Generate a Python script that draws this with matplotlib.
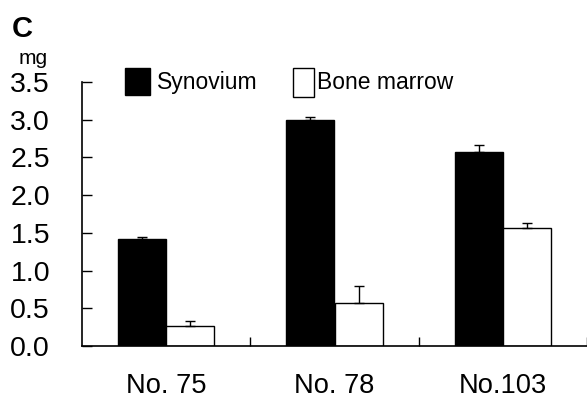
import matplotlib
matplotlib.use("Agg")
import matplotlib.pyplot as plt
import numpy as np
from matplotlib.patches import Rectangle

plt.rcParams['font.family'] = ['Liberation Sans', 'DejaVu Sans']

# data (mg)
cases = ["No. 75", "No. 78", "No.103"]
synovium = [1.42, 2.99, 2.57]
synovium_err = [0.03, 0.04, 0.09]
bone_marrow = [0.27, 0.57, 1.565]
bone_marrow_err = [0.06, 0.22, 0.063]

W, H = 587, 401
fig = plt.figure(figsize=(W / 100, H / 100), dpi=100)
ax = fig.add_axes([82 / W, 1 - 346 / H, 1 - 82 / W, (346 - 82) / H])

x = np.arange(len(cases))
bw = 0.286
ax.bar(x - bw / 2, synovium, bw, color="black", edgecolor="black", linewidth=1)
ax.bar(x + bw / 2, bone_marrow, bw, color="white", edgecolor="black", linewidth=1)
# upward-only error bars
ax.errorbar(x - bw / 2, synovium, yerr=[np.zeros(3), synovium_err], fmt="none",
            ecolor="black", elinewidth=1, capsize=3.3, capthick=1)
ax.errorbar(x + bw / 2, bone_marrow, yerr=[np.zeros(3), bone_marrow_err], fmt="none",
            ecolor="black", elinewidth=1, capsize=3.3, capthick=1)

ax.set_xlim(-0.5, 2.5)
ax.set_ylim(0, 3.5)
ax.set_yticks(np.arange(0, 3.51, 0.5))
ax.set_yticklabels([f"{v:.1f}" for v in np.arange(0, 3.51, 0.5)])
ax.set_xticks(x)
ax.set_xticklabels(cases)
ax.set_xticks([0.5, 1.5, 2.5], minor=True)

ax.tick_params(axis="y", direction="in", length=7, width=1, pad=23, labelsize=20.5)
ax.tick_params(axis="x", which="major", length=0, pad=19.5, labelsize=19.6)
ax.tick_params(axis="x", which="minor", direction="in", length=6.5, width=1)

for side in ["top", "right"]:
    ax.spines[side].set_visible(False)
for side in ["left", "bottom"]:
    ax.spines[side].set_linewidth(1.2)

# panel letter and unit
fig.text(12 / W, 1 - 37 / H, "C", fontsize=21, fontweight="bold", ha="left", va="baseline")
fig.text(33 / W, 1 - 64 / H, "mg", fontsize=15, ha="center", va="baseline")

# legend drawn by hand
fig.add_artist(Rectangle((125 / W, 1 - 95 / H), 25 / W, 27 / H,
                         transform=fig.transFigure, facecolor="black", edgecolor="black", lw=1))
fig.text(157 / W, 1 - 89 / H, "Synovium", fontsize=16.5, ha="left", va="baseline")
fig.add_artist(Rectangle((293 / W, 1 - 97 / H), 21 / W, 29 / H,
                         transform=fig.transFigure, facecolor="white", edgecolor="black", lw=1))
fig.text(317 / W, 1 - 89 / H, "Bone marrow", fontsize=16.5, ha="left", va="baseline")

fig.savefig("out.png", dpi=100)
